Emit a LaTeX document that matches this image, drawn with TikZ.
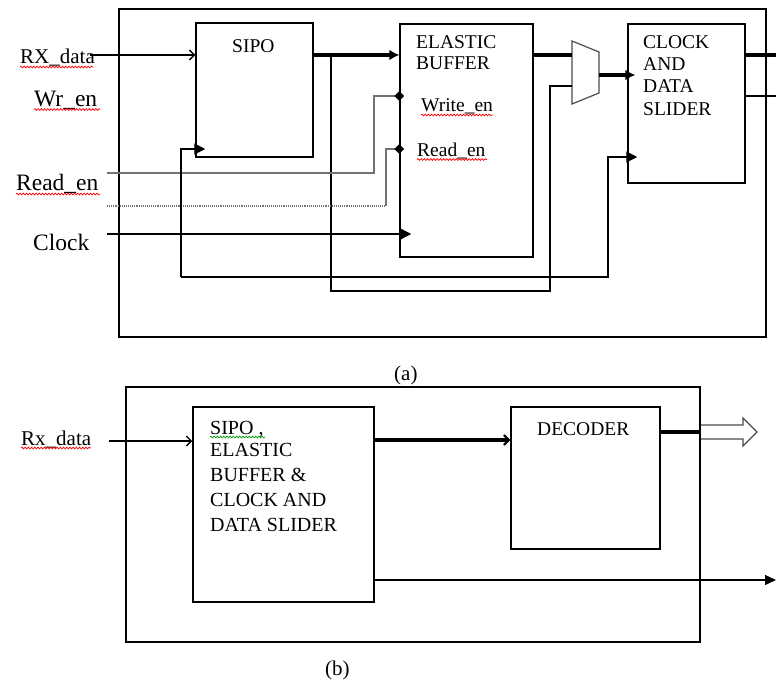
\documentclass[tikz,border=0pt]{standalone}
\usepackage{fontspec}
\setmainfont{Liberation Serif}
\usetikzlibrary{arrows.meta,decorations.pathmorphing,calc,shapes.geometric}
\begin{document}
\begin{tikzpicture}[x=1pt,y=-1pt,
  blk/.style={draw, line width=1.5pt, inner sep=0pt},
  frame/.style={draw, line width=1.6pt, inner sep=0pt},
  sig/.style={line width=1.3pt},
  bus/.style={line width=3.4pt},
  graysig/.style={line width=1.1pt, draw=black!55},
  btxt/.style={font=\fontsize{19.5}{22}\selectfont, inner sep=0pt, anchor=base west},
  bbtxt/.style={font=\fontsize{20}{22}\selectfont, inner sep=0pt, anchor=base west},
  ltxt/.style={font=\fontsize{23.5}{26}\selectfont, inner sep=0pt, anchor=base west},
  stxt/.style={font=\fontsize{21}{24}\selectfont, inner sep=0pt, anchor=base west},
  squig/.style={draw=red, line width=0.7pt, decorate, decoration={snake, amplitude=0.9pt, segment length=3.2pt}},
  barb/.style={-{Straight Barb[length=5pt,width=10pt]}},
  bbarb/.style={-{Straight Barb[length=5pt,width=10pt,line width=2pt]}},
  tri/.style={-{Triangle[length=11pt,width=11pt]}},
  dia/.style={diamond, fill=black, inner sep=0pt, minimum size=10pt},
]
\useasboundingbox (0,0) rectangle (776,680);

% ---------------- (a) ----------------
\node[frame, minimum width=647pt, minimum height=328pt] (fa) at (442.5,173) {};
\node[blk, minimum width=117pt, minimum height=134pt] (sipo) at (254.5,90) {};
\node[blk, minimum width=133pt, minimum height=233pt] (eb) at (466.5,140.5) {};
\node[blk, minimum width=117pt, minimum height=159pt] (cds) at (686.5,103.5) {};

% mux
\coordinate (m1) at (572,41);
\coordinate (m2) at (599,52);
\coordinate (m3) at (599,93);
\coordinate (m4) at (572,104);
\draw[line width=1.2pt, draw=black!70] (m1) -- (m2) -- (m3) -- (m4) -- cycle;

% texts in blocks
\node[btxt] (sipot) at (232,52) {SIPO};
\node[btxt] (ebt1) at (416,48) {ELASTIC};
\node[btxt] (ebt2) at (416,69) {BUFFER};
\node[btxt] (wen) at (421,111) {Write\_en};
\node[btxt] (ren) at (417,156) {Read\_en};
\node[btxt] (cdt1) at (643,48) {CLOCK};
\node[btxt] (cdt2) at (643,70) {AND};
\node[btxt] (cdt3) at (643,92) {DATA};
\node[btxt] (cdt4) at (643,115) {SLIDER};

% labels
\node[stxt] (lrx) at (20,63) {RX\_data};
\node[ltxt] (lwr) at (34,106) {Wr\_en};
\node[ltxt] (lrd) at (16,190) {Read\_en};
\node[ltxt] (lck) at (33,250) {Clock};
\node[stxt] (capa) at (394,380) {(a)};

% connectors
\coordinate (rxa) at (90,55);
\draw[sig,barb] (rxa) -- (rxa -| sipo.west);
\draw[bus,-{Latex[length=10pt,width=11pt]}] (sipo.east |- rxa) -- (eb.west |- rxa);
\coordinate (br) at (331,55);
\draw[sig] (br) -- (331,291) -- (550,291) -- (550,86) -- (m1 |- 0,86);
\draw[bus] (eb.east |- rxa) -- (m1 |- rxa);
\draw[bus,-{Latex[length=10pt,width=11pt]}] (m2 |- 0,75) -- ($(cds.west |- 0,75)+(8,0)$);
\draw[bus] (cds.east |- rxa) -- (776,55);
\draw[sig] (cds.east |- 0,96) -- (776,96);

% write / read enables
\coordinate (wrs) at (107,173);
\draw[graysig] (wrs) -- (374,173) -- (374,96) -- (eb.west |- 0,96);
\node[dia] (dw) at (eb.west |- 0,96) {};
\coordinate (rds) at (107,206);
\draw[graysig, densely dotted] (rds) -- (386,206);
\draw[graysig] (386,206) -- (386,149) -- (eb.west |- 0,149);
\node[dia] (dr) at (eb.west |- 0,149) {};

% clock
\coordinate (clk) at (107,234);
\draw[sig,tri] (clk) -- ($(eb.west |- clk)+(12,0)$);

% loop clock to sipo and cds
\coordinate (lp) at (181,277);
\draw[sig,tri] (lp) -- (181,149) -- ($(sipo.west |- 0,149)+(10,0)$);
\draw[sig,tri] (lp) -- (608,277) -- (608,157) -- ($(cds.west |- 0,157)+(10,0)$);

% squiggles (a)
\draw[squig] (20,67) -- (93,67);
\draw[squig] (34,109.5) -- (100,109.5);
\draw[squig] (16,194) -- (100,194);
\draw[squig] (421,115) -- (493,115);
\draw[squig] (417,159.5) -- (487,159.5);

% ---------------- (b) ----------------
\node[frame, minimum width=574pt, minimum height=255pt] (fb) at (413,514.5) {};
\node[blk, minimum width=181pt, minimum height=195pt] (b1) at (283.5,504.5) {};
\node[blk, minimum width=149pt, minimum height=142pt] (dec) at (585.5,478) {};

\node[bbtxt] (bt1) at (210,434) {SIPO ,};
\node[bbtxt] (bt2) at (210,456) {ELASTIC};
\node[bbtxt] (bt3) at (210,481) {BUFFER \&};
\node[bbtxt] (bt4) at (210,506) {CLOCK AND};
\node[bbtxt] (bt5) at (210,531) {DATA SLIDER};
\node[btxt] (dect) at (537,435) {DECODER};
\node[stxt] (lrxb) at (21,445) {Rx\_data};
\node[stxt] (capb) at (325,675) {(b)};

\coordinate (rxb) at (109,441);
\draw[sig,barb] (rxb) -- (rxb -| b1.west);
\draw[bus,bbarb] (b1.east |- 0,440) -- (dec.west |- 0,440);
\coordinate (dout) at (700,432);
\draw[bus] (dec.east |- dout) -- (dout);
\draw[line width=1.2pt, draw=black!70, fill=white] (701,425) -- (743,425) -- (743,418) -- (757,432) -- (743,446) -- (743,439) -- (701,439);
\draw[sig,-{Triangle[length=11pt,width=10pt]}] (b1.east |- 0,580) -- (776,580);

\draw[squig] (21,448) -- (91,448);
\draw[squig, draw=green!60!black] (210,437) -- (265,437);
\end{tikzpicture}
\end{document}
